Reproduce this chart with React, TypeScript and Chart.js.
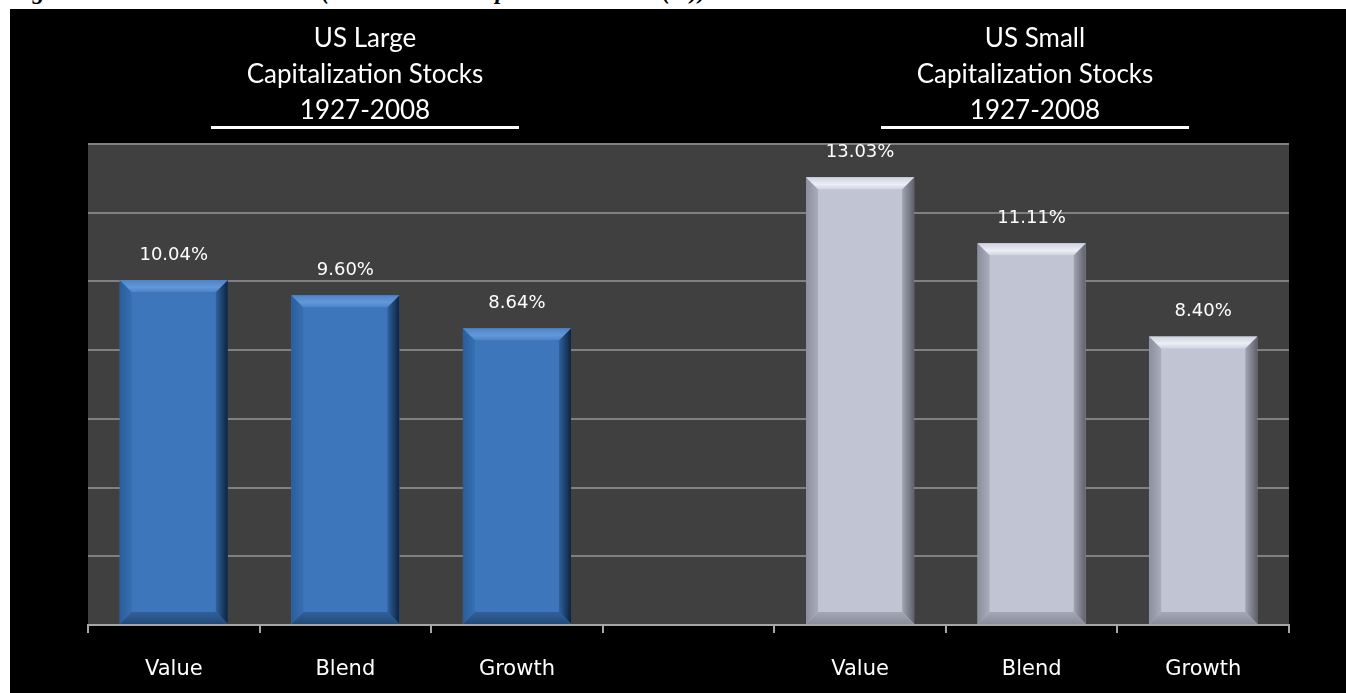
import React, { useEffect, useRef } from "react";
import { Chart, registerables } from "chart.js";

Chart.register(...registerables);

// ---- data ----
const categories = ["Value", "Blend", "Growth", "", "Value", "Blend", "Growth"];
const largeCapReturns = [10.04, 9.6, 8.64];
const smallCapReturns = [13.03, 11.11, 8.4];
const yAxisMax = 14;
const yAxisStep = 2;
const groupTitles = [
  ["US Large", "Capitalization Stocks", "1927-2008"],
  ["US Small", "Capitalization Stocks", "1927-2008"],
];
const figureTitle = "Figure 3: US Growth vs. Value (Annualized Compounded Return (%))";

const barValues: (number | null)[] = [...largeCapReturns, null, ...smallCapReturns];
const barKinds = ["blue", "blue", "blue", "none", "gray", "gray", "gray"];

const palettes: Record<string, any> = {
  blue: {
    main: "#3e76bb",
    top: ["#6398d8", "#4d84c9"],
    right: ["#2f619f", "#0e223d"],
    left: ["#3670b2", "#2b5d9a"],
    bottom: ["#30609a", "#234a78"],
  },
  gray: {
    main: "#c1c5d3",
    top: ["#eceef6", "#d0d3e0"],
    right: ["#a2a5b2", "#5e606a"],
    left: ["#a9acba", "#8b8e9c"],
    bottom: ["#a4a7b5", "#8a8d9a"],
  },
};

const backgroundPlugin = {
  id: "bgPlugin",
  beforeDraw(chart: any) {
    const { ctx, chartArea } = chart;
    ctx.save();
    ctx.fillStyle = "#000000";
    ctx.fillRect(0, 0, chart.width, chart.height);
    ctx.fillStyle = "#404040";
    ctx.fillRect(
      chartArea.left,
      chartArea.top,
      chartArea.right - chartArea.left,
      chartArea.bottom - chartArea.top
    );
    ctx.restore();
  },
};

function poly(ctx: CanvasRenderingContext2D, pts: number[][], fill: any) {
  ctx.beginPath();
  ctx.moveTo(pts[0][0], pts[0][1]);
  for (let i = 1; i < pts.length; i++) ctx.lineTo(pts[i][0], pts[i][1]);
  ctx.closePath();
  ctx.fillStyle = fill;
  ctx.fill();
}

const bevelPlugin = {
  id: "bevelPlugin",
  afterDatasetsDraw(chart: any) {
    const { ctx } = chart;
    const meta = chart.getDatasetMeta(0);
    ctx.save();
    meta.data.forEach((bar: any, i: number) => {
      const v = barValues[i];
      if (v === null || v === undefined) return;
      const p = palettes[barKinds[i]];
      const { x, y, base, width } = bar.getProps(["x", "y", "base", "width"], true);
      const x0 = x - width / 2;
      const x1 = x + width / 2;
      const top = y;
      const bot = base;
      const b = 12;
      let g = ctx.createLinearGradient(x0, 0, x0 + b, 0);
      g.addColorStop(0, p.left[1]);
      g.addColorStop(1, p.left[0]);
      poly(ctx, [[x0, top], [x0 + b, top + b], [x0 + b, bot - b], [x0, bot]], g);
      g = ctx.createLinearGradient(x1 - b, 0, x1, 0);
      g.addColorStop(0, p.right[0]);
      g.addColorStop(1, p.right[1]);
      poly(ctx, [[x1, top], [x1 - b, top + b], [x1 - b, bot - b], [x1, bot]], g);
      g = ctx.createLinearGradient(0, bot - b, 0, bot);
      g.addColorStop(0, p.bottom[0]);
      g.addColorStop(1, p.bottom[1]);
      poly(ctx, [[x0, bot], [x0 + b, bot - b], [x1 - b, bot - b], [x1, bot]], g);
      g = ctx.createLinearGradient(0, top, 0, top + b);
      g.addColorStop(0, p.top[1]);
      g.addColorStop(0.6, p.top[0]);
      g.addColorStop(1, p.top[1]);
      poly(ctx, [[x0, top], [x1, top], [x1 - b, top + b], [x0 + b, top + b]], g);
    });
    ctx.restore();
  },
};

const labelPlugin = {
  id: "labelPlugin",
  afterDatasetsDraw(chart: any) {
    const { ctx } = chart;
    const meta = chart.getDatasetMeta(0);
    ctx.save();
    ctx.fillStyle = "#ffffff";
    ctx.font = "18px 'DejaVu Sans'";
    ctx.textAlign = "center";
    ctx.textBaseline = "middle";
    meta.data.forEach((bar: any, i: number) => {
      const v = barValues[i];
      if (v === null || v === undefined) return;
      const { x, y } = bar.getProps(["x", "y"], true);
      ctx.fillText(v.toFixed(2) + "%", x, y - 25);
    });
    ctx.restore();
  },
};

function ChartCanvas() {
  const ref = useRef<HTMLCanvasElement | null>(null);
  useEffect(() => {
    if (!ref.current) return;
    const chart = new Chart(ref.current, {
      type: "bar",
      data: {
        labels: categories,
        datasets: [
          {
            data: barValues as any,
            backgroundColor: barKinds.map((k) => (palettes[k] ? palettes[k].main : "rgba(0,0,0,0)")),
            borderWidth: 0,
            barPercentage: 0.63,
            categoryPercentage: 1,
          },
        ],
      },
      options: {
        animation: false,
        responsive: false,
        maintainAspectRatio: false,
        layout: { padding: { left: 78, right: 57, top: 135, bottom: 0 } },
        plugins: {
          legend: { display: false },
          tooltip: { enabled: false },
          title: { display: false },
        },
        scales: {
          x: {
            afterFit: (s: any) => {
              s.height = 68;
            },
            grid: {
              display: true,
              offset: true,
              drawOnChartArea: false,
              drawTicks: true,
              tickLength: 8,
              color: "#a6a6a6",
              lineWidth: 2,
            },
            border: { display: true, color: "#a6a6a6", width: 2 },
            ticks: {
              color: "#ffffff",
              font: { family: "'DejaVu Sans'", size: 21 },
              padding: 24,
              maxRotation: 0,
              autoSkip: false,
            },
          },
          y: {
            min: 0,
            max: yAxisMax,
            afterFit: (s: any) => {
              s.width = 0;
            },
            ticks: { display: false, stepSize: yAxisStep },
            grid: { color: "#808080", lineWidth: 2, drawTicks: false },
            border: { display: false },
          },
        },
      },
      plugins: [backgroundPlugin, bevelPlugin, labelPlugin],
    });
    return () => chart.destroy();
  }, []);
  return <canvas ref={ref} width={1336} height={684} style={{ display: "block", width: 1336, height: 684 }} />;
}

export default function App() {
  const headerCenters = [365, 1035];
  return (
    <div
      style={{
        position: "fixed",
        left: 0,
        top: 0,
        width: 1346,
        height: 693,
        background: "#ffffff",
        overflow: "hidden",
      }}
    >
      <div
        style={{
          position: "absolute",
          left: 10,
          top: -22,
          whiteSpace: "nowrap",
          fontFamily: "'Liberation Serif', serif",
          fontWeight: "bold",
          fontStyle: "italic",
          fontSize: 24,
          color: "#000",
        }}
      >
        {figureTitle}
      </div>
      <div style={{ position: "absolute", left: 10, top: 9, width: 1336, height: 684 }}>
        <ChartCanvas />
      </div>
      {groupTitles.map((lines, gi) => (
        <div
          key={gi}
          style={{
            position: "absolute",
            left: headerCenters[gi] - 200,
            top: 19,
            width: 400,
            textAlign: "center",
            color: "#ffffff",
            fontFamily: "Lato, sans-serif",
            fontSize: 26,
            lineHeight: "36px",
          }}
        >
          {lines.map((l, li) => (
            <div key={li}>{l}</div>
          ))}
        </div>
      ))}
      {headerCenters.map((c, gi) => (
        <div
          key={"u" + gi}
          style={{
            position: "absolute",
            left: c - 154,
            top: 126,
            width: 308,
            height: 3,
            background: "#ffffff",
          }}
        />
      ))}
    </div>
  );
}
